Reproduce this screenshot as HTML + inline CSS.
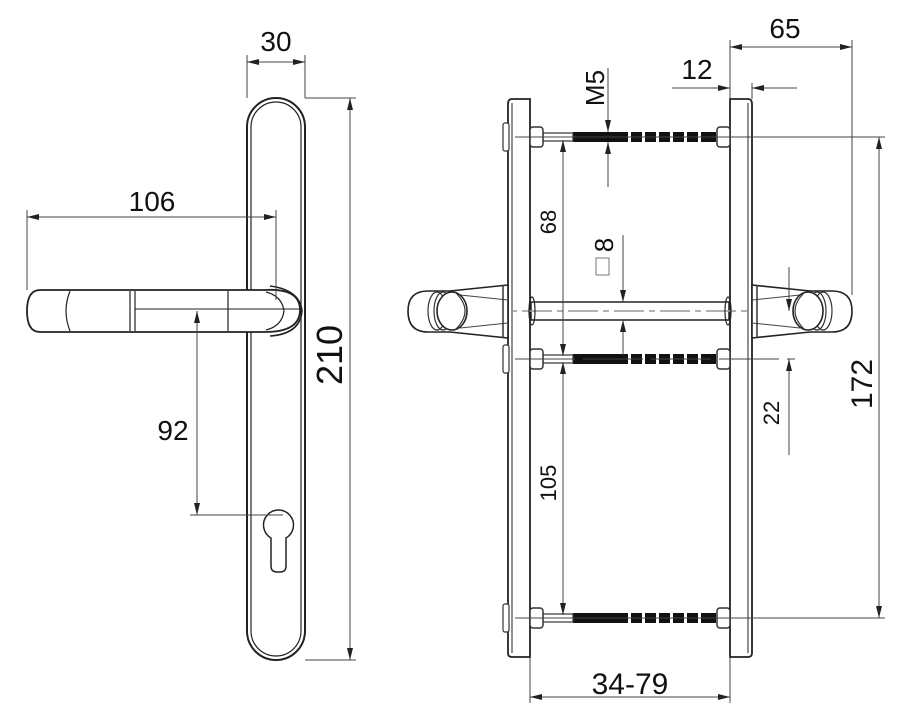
<!DOCTYPE html>
<html><head><meta charset="utf-8"><style>
html,body{margin:0;padding:0;background:#fff;}
svg{display:block;}
text{font-family:"Liberation Sans Narrow","Liberation Sans",sans-serif;fill:#111;}
</style></head><body>
<svg width="907" height="727" viewBox="0 0 907 727" xmlns="http://www.w3.org/2000/svg">
<defs>
<marker id="a" viewBox="0 0 12 6" refX="12" refY="3" markerWidth="12" markerHeight="6" orient="auto-start-reverse" markerUnits="userSpaceOnUse"><path d="M0,0 L12,3 L0,6 Z" fill="#222"/></marker>
<g id="thread">
<rect x="573" y="-5" width="55" height="10" fill="#111"/>
<rect x="631" y="-5" width="11" height="10" fill="#111"/>
<rect x="645" y="-5" width="11" height="10" fill="#111"/>
<rect x="659" y="-5" width="11" height="10" fill="#111"/>
<rect x="673" y="-5" width="11" height="10" fill="#111"/>
<rect x="687" y="-5" width="11" height="10" fill="#111"/>
<rect x="701" y="-5" width="15" height="10" fill="#111"/>
<rect x="543" y="-4" width="30" height="8" fill="none" stroke="#333" stroke-width="1.2"/>
<rect x="530" y="-10" width="13" height="20" rx="3" fill="#fff" stroke="#333" stroke-width="1.5"/>
<rect x="717" y="-10" width="13" height="20" rx="3" fill="#fff" stroke="#333" stroke-width="1.5"/>
<rect x="503" y="-14" width="6" height="28" rx="2" fill="#fff" stroke="#333" stroke-width="1.2"/>
</g>
<g id="knob">
<path d="M508,285 L450,291 L428,291 Q408,291 408,311 Q408,332 428,332 L450,332 L508,338 Z" fill="#fff" stroke="#222" stroke-width="1.6"/>
<path d="M460,295 L508,300 M460,328 L508,323" stroke="#444" stroke-width="1" fill="none"/>
<line x1="503" y1="285" x2="503" y2="338" stroke="#333" stroke-width="1.5"/>
<ellipse cx="437" cy="311" rx="9" ry="19" fill="none" stroke="#333" stroke-width="1.2"/>
<ellipse cx="443" cy="311" rx="9" ry="19" fill="none" stroke="#333" stroke-width="1.2"/>
<ellipse cx="452" cy="311" rx="15" ry="19" fill="#fff" stroke="#222" stroke-width="1.6"/>
<path d="M455,292 Q475,311 455,330" fill="none" stroke="#333" stroke-width="1.2"/>
</g>
</defs>
<g stroke="#222" fill="none">
<!-- LEFT VIEW -->
<rect x="247" y="98" width="58" height="562" rx="29" stroke-width="2"/>
<rect x="251" y="102" width="50" height="554" rx="25" stroke-width="1.2"/>
<path d="M40,290 L265,290 Q300,288 300,310 Q300,332 265,332 L40,332 Q27,332 27,311 Q27,290 40,290 Z" fill="#fff" stroke-width="1.8"/>
<path d="M70,291 Q62,311 70,331 M130,291 L130,331 M135,291 L135,331 M228,291 L228,331" stroke-width="1.2"/>
<path d="M135,309 L300,309" stroke-width="1"/>
<path d="M270,286 Q300,290 302,311 Q300,334 270,336" stroke-width="1.6"/>
<path d="M266,292 Q282,296 284,311 Q282,326 266,330" stroke-width="1.2"/>
<path d="M271,538 A15,15 0 1 1 286,538 L286,566 Q286,572 280,572 L277,572 Q271,572 271,566 Z" stroke-width="1.5"/>
<g stroke-width="1" stroke="#444">
<line x1="247" y1="55" x2="247" y2="98"/><line x1="305" y1="55" x2="305" y2="98"/>
<line x1="247" y1="62" x2="305" y2="62" marker-start="url(#a)" marker-end="url(#a)"/>
<line x1="305" y1="98" x2="356" y2="98"/><line x1="305" y1="660" x2="356" y2="660"/>
<line x1="350" y1="98" x2="350" y2="660" marker-start="url(#a)" marker-end="url(#a)"/>
<line x1="27" y1="210" x2="27" y2="290"/><line x1="276" y1="210" x2="276" y2="300"/>
<line x1="27" y1="217" x2="276" y2="217" marker-start="url(#a)" marker-end="url(#a)"/>
<line x1="197" y1="311" x2="197" y2="515" marker-start="url(#a)" marker-end="url(#a)"/>
<line x1="190" y1="515" x2="283" y2="515"/>
</g>
<!-- RIGHT VIEW -->
<path d="M530,99 L512,99 Q508,99 508,104 L508,653 Q508,657 512,657 L530,657 Z" stroke-width="1.8" fill="#fff"/>
<line x1="512" y1="103" x2="512" y2="653" stroke-width="1"/>
<path d="M730,99 L748,99 Q752,99 752,104 L752,653 Q752,657 748,657 L730,657 Z" stroke-width="1.8" fill="#fff"/>
<line x1="748" y1="103" x2="748" y2="653" stroke-width="1"/>
<rect x="531" y="302" width="198" height="18" fill="#fff" stroke-width="1.5"/>
<line x1="430" y1="311" x2="840" y2="311" stroke="#999" stroke-width="1.5" stroke-dasharray="30,5,6,5"/>
<ellipse cx="532" cy="311" rx="3" ry="14" stroke-width="1.2"/>
<ellipse cx="728" cy="311" rx="3" ry="14" stroke-width="1.2"/>
</g>
<use href="#knob"/>
<use href="#knob" transform="translate(1260,0) scale(-1,1)"/>
<use href="#thread" transform="translate(0,137)"/>
<use href="#thread" transform="translate(0,359)"/>
<use href="#thread" transform="translate(0,618)"/>
<g stroke="#444" stroke-width="1" fill="none">
<line x1="515" y1="137" x2="885" y2="137"/>
<line x1="515" y1="359" x2="795" y2="359" stroke-dasharray="60,8"/>
<line x1="515" y1="618" x2="885" y2="618"/>
<line x1="730" y1="40" x2="730" y2="99"/><line x1="852" y1="40" x2="852" y2="295"/>
<line x1="730" y1="47" x2="852" y2="47" marker-start="url(#a)" marker-end="url(#a)"/>
<line x1="672" y1="88" x2="730" y2="88" marker-end="url(#a)"/>
<line x1="797" y1="88" x2="752" y2="88" marker-end="url(#a)"/>
<line x1="752" y1="83" x2="752" y2="99"/>
<line x1="608" y1="68" x2="608" y2="132" marker-end="url(#a)"/>
<line x1="608" y1="187" x2="608" y2="142" marker-end="url(#a)"/>
<line x1="563" y1="140" x2="563" y2="356" marker-start="url(#a)" marker-end="url(#a)"/>
<line x1="563" y1="362" x2="563" y2="615" marker-start="url(#a)" marker-end="url(#a)"/>
<line x1="623" y1="235" x2="623" y2="302" marker-end="url(#a)"/>
<line x1="623" y1="355" x2="623" y2="320" marker-end="url(#a)"/>
<rect x="596" y="258" width="13" height="17" stroke="#777"/>
<line x1="789" y1="267" x2="789" y2="311" marker-end="url(#a)"/>
<line x1="789" y1="455" x2="789" y2="359" marker-end="url(#a)"/>
<line x1="879" y1="137" x2="879" y2="618" marker-start="url(#a)" marker-end="url(#a)"/>
<line x1="530" y1="657" x2="530" y2="703"/><line x1="730" y1="657" x2="730" y2="703"/>
<line x1="530" y1="697" x2="730" y2="697" marker-start="url(#a)" marker-end="url(#a)"/>
</g>
<text x="276" y="51" font-size="28" text-anchor="middle">30</text>
<text x="152" y="211" font-size="28" text-anchor="middle">106</text>
<text x="173" y="440" font-size="28" text-anchor="middle">92</text>
<text transform="translate(342,355) rotate(-90)" font-size="36" text-anchor="middle">210</text>
<text x="785" y="38" font-size="28" text-anchor="middle">65</text>
<text x="697" y="79" font-size="28" text-anchor="middle">12</text>
<text transform="translate(604,88) rotate(-90)" font-size="26" text-anchor="middle">M5</text>
<text transform="translate(556,222) rotate(-90)" font-size="22" text-anchor="middle">68</text>
<text transform="translate(613,245) rotate(-90)" font-size="26" text-anchor="middle">8</text>
<text transform="translate(556,483) rotate(-90)" font-size="22" text-anchor="middle">105</text>
<text transform="translate(779,413) rotate(-90)" font-size="22" text-anchor="middle">22</text>
<text transform="translate(872,384) rotate(-90)" font-size="30" text-anchor="middle">172</text>
<text x="630" y="694" font-size="30" text-anchor="middle">34-79</text>
</svg>
</body></html>
